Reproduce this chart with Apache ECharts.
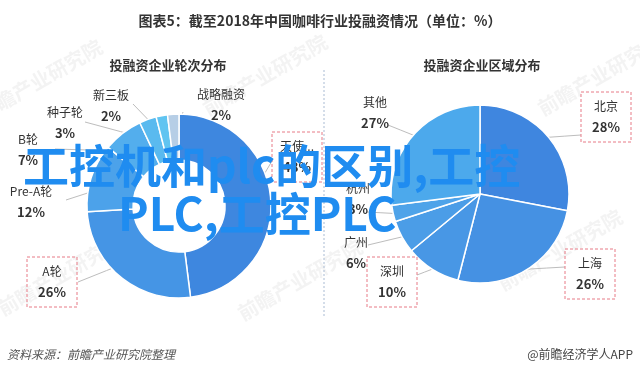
<!DOCTYPE html>
<html><head><meta charset="utf-8">
<script src="https://cdn.jsdelivr.net/npm/echarts/dist/echarts.min.js"></script>
<style>html,body{margin:0;padding:0;background:#fff}#c{width:640px;height:371px}</style>
</head><body><div id="c"></div>
<script>
// ---- data ----
const roundNames = ['天使轮','A轮','Pre-A轮','B轮','种子轮','新三板','战略融资'];
const roundValues = [48,26,12,7,3,2,2];
const regionNames = ['北京','上海','深圳','广州','杭州','其他'];
const regionValues = [28,26,10,6,3,27];
const titleText = '图表5：截至2018年中国咖啡行业投融资情况（单位：%）';
const leftTitle = '投融资企业轮次分布';
const rightTitle = '投融资企业区域分布';
const sourceText = '资料来源：前瞻产业研究院整理';
const brandText = '@前瞻经济学人APP';
const overlayLine1 = '工控机和plc的区别,工控';
const overlayLine2 = 'PLC,工控PLC';
const watermarkText = '前瞻产业研究院';

// ---- style / layout ----
const FONT = '"Noto Sans CJK SC","Noto Sans",sans-serif';
const roundColors = ['#3e87df','#4595e5','#4ca2ea','#53aeed','#5abaef','#60c4f1','#b6cee6'];
const regionColors = ['#3f86df','#4591e3','#4897e5','#4b9de7','#4ea3e9','#4ca9ec'];
const roundBoxed = ['天使轮','A轮'];
const regionBoxed = ['北京','上海','深圳'];
const leftCenter = [179,206], leftRadius = [46,92];
const rightCenter = [480,194], rightRadius = 89;
const roundLabelAt = [[297,157],[52,282],[31,202],[28,150],[65,123],[111,106],[221,105]];
const roundLineEnd = [[272,161],[78,282],[66,200],[55,149],[85,122],[133,104],[183,112]];
const regionLabelAt = [[606,117],[590,274],[392,282],[356,253],[358,199],[375,113]];
const regionLineEnd = [[581,135],[565,267],[417,275],[368,245],[367,212],[388,125]];
const watermarkAt = [[40,80],[265,75],[600,75],[60,275],[300,280],[560,250]];

const boxLabel = {borderColor:'#e77a86', borderWidth:1, borderType:[3,2], padding:[4,7], width:36};
function buildData(names, values, colors, boxed){
  return names.map((n,i)=>({name:n, value:values[i], itemStyle:{color:colors[i]},
    label: boxed.includes(n) ? boxLabel : {}}));
}
function layoutFor(labelAt, lineEnd, center, rStart, values){
  const total = values.reduce((a,b)=>a+b,0);
  const mids=[]; let s=0; values.forEach(v=>{mids.push(s+v/2); s+=v;});
  return function(p){
    const i=p.dataIndex;
    const ang = mids[i]/total*2*Math.PI;
    const sx = center[0] + rStart*Math.sin(ang), sy = center[1]-rStart*Math.cos(ang);
    const e = lineEnd[i];
    return {x:labelAt[i][0], y:labelAt[i][1], align:'center', verticalAlign:'middle',
      labelLinePoints:[[sx,sy],[(sx+e[0])/2,(sy+e[1])/2],[e[0],e[1]]]};
  };
}
const labelCommon = {
  show:true, position:'outside', formatter:'{n|{b}}\n{v|{c}%}', align:'center',
  rich:{
    n:{fontFamily:FONT,fontSize:12,color:'#333',lineHeight:21,align:'center'},
    v:{fontFamily:FONT,fontSize:13,fontWeight:'bold',color:'#333',lineHeight:21,align:'center'}
  }
};
const lineCommon = {show:true, lineStyle:{color:'#bdbdbd', width:1}, smooth:false};

const graphics = watermarkAt.map(p=>({type:'text', z:0, x:p[0], y:p[1], rotation:Math.PI/6,
  style:{text:watermarkText, font:'bold 20px '+FONT, fill:'rgba(190,190,190,0.18)', textAlign:'center', textVerticalAlign:'middle'}}));
graphics.push(
  {type:'text', x:320, y:21, style:{text:titleText, font:'bold 14px '+FONT, fill:'#333', textAlign:'center', textVerticalAlign:'middle'}},
  {type:'text', x:168, y:65, style:{text:leftTitle, font:'bold 13px '+FONT, fill:'#333', textAlign:'center', textVerticalAlign:'middle'}},
  {type:'text', x:482, y:65, style:{text:rightTitle, font:'bold 13px '+FONT, fill:'#333', textAlign:'center', textVerticalAlign:'middle'}},
  {type:'line', shape:{x1:324,y1:70,x2:324,y2:318}, style:{stroke:'#a9bcd4', lineWidth:1, lineDash:[2,2]}},
  {type:'text', x:7, y:354, style:{text:sourceText, font:'italic 12px '+FONT, fill:'#555', textAlign:'left', textVerticalAlign:'middle'}},
  {type:'text', x:633, y:354, style:{text:brandText, font:'12px '+FONT, fill:'#444', textAlign:'right', textVerticalAlign:'middle'}},
  {type:'text', z:100, x:23, y:166, style:{text:overlayLine1, font:'bold 46px '+FONT, fill:'#1f8cf0', textAlign:'left', textVerticalAlign:'middle'}},
  {type:'text', z:100, x:118, y:214, style:{text:overlayLine2, font:'bold 46px '+FONT, fill:'#1f8cf0', textAlign:'left', textVerticalAlign:'middle'}}
);

const chart = echarts.init(document.getElementById('c'), null, {renderer:'canvas'});
chart.setOption({
  animation:false,
  backgroundColor:'#fff',
  series:[
    {type:'pie', center:leftCenter, radius:leftRadius, startAngle:90, clockwise:true,
     avoidLabelOverlap:false, silent:true,
     itemStyle:{borderColor:'#fff', borderWidth:1.5},
     label:labelCommon, labelLine:lineCommon,
     labelLayout: layoutFor(roundLabelAt, roundLineEnd, leftCenter, 69, roundValues),
     data: buildData(roundNames, roundValues, roundColors, roundBoxed)},
    {type:'pie', center:rightCenter, radius:rightRadius, startAngle:90, clockwise:true,
     avoidLabelOverlap:false, silent:true,
     itemStyle:{borderColor:'#fff', borderWidth:1.5},
     label:labelCommon, labelLine:lineCommon,
     labelLayout: layoutFor(regionLabelAt, regionLineEnd, rightCenter, rightRadius, regionValues),
     data: buildData(regionNames, regionValues, regionColors, regionBoxed)}
  ],
  graphic: graphics
});
</script></body></html>
